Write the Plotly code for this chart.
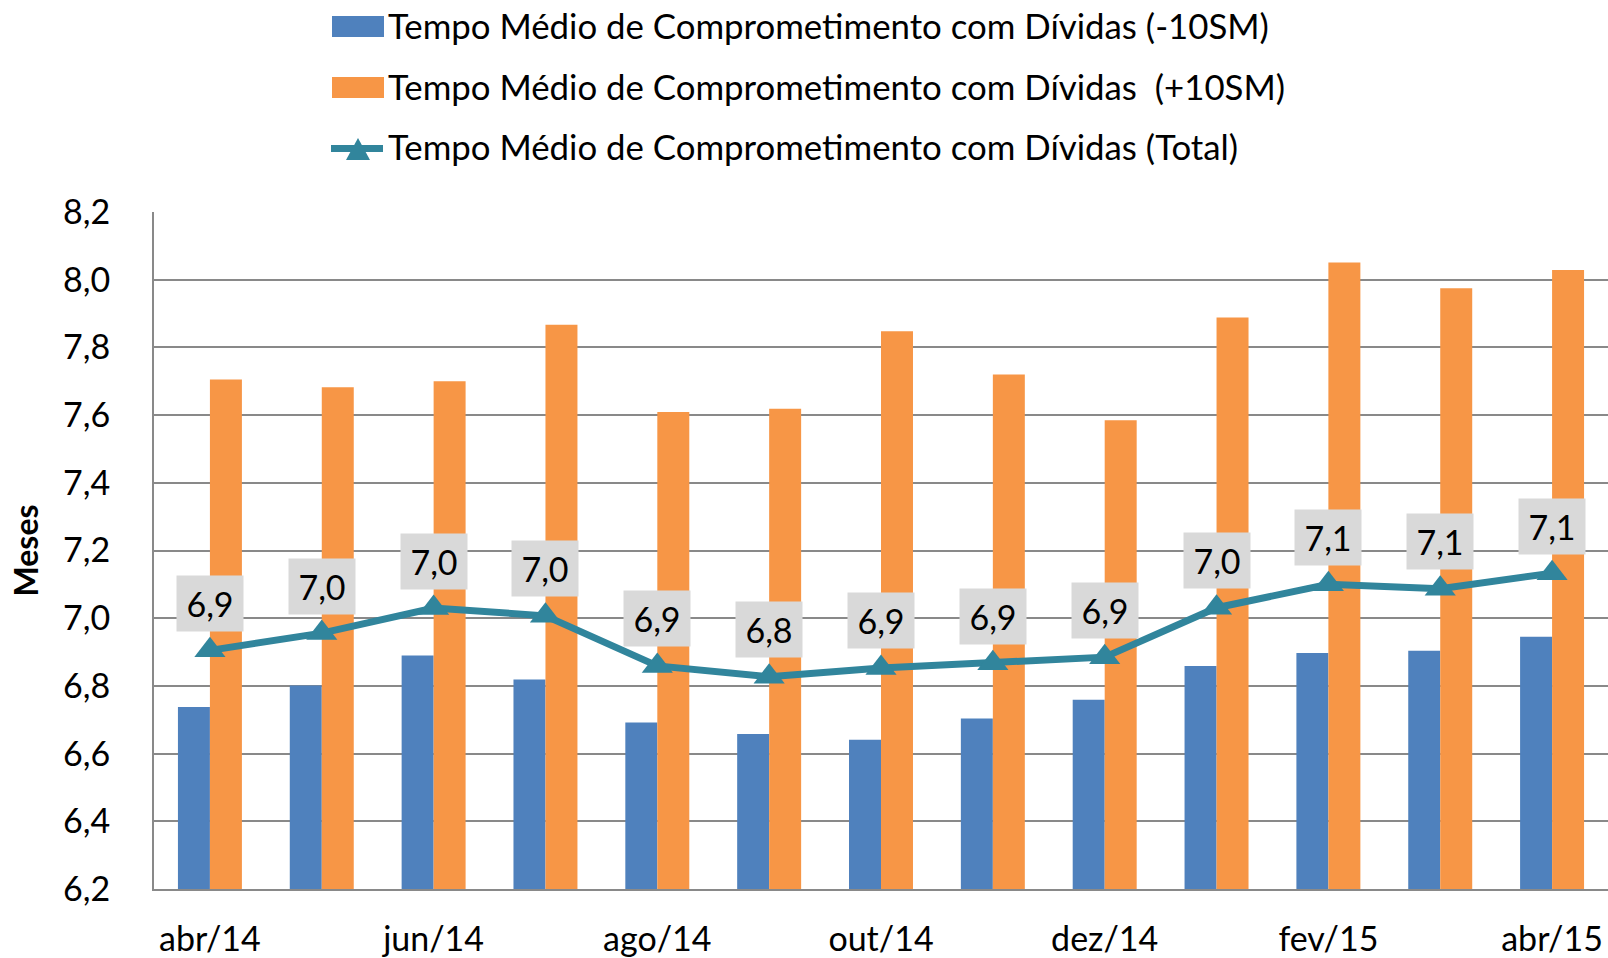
import plotly.graph_objects as go

# ---- data ----
categories = ["abr/14", "mai/14", "jun/14", "jul/14", "ago/14", "set/14", "out/14",
              "nov/14", "dez/14", "jan/15", "fev/15", "mar/15", "abr/15"]
menos_10sm = [6.738, 6.801, 6.890, 6.819, 6.692, 6.658, 6.641, 6.704, 6.759, 6.859, 6.897, 6.904, 6.945]
mais_10sm = [7.705, 7.682, 7.700, 7.867, 7.609, 7.619, 7.848, 7.720, 7.585, 7.888, 8.051, 7.975, 8.029]
total = [6.905, 6.956, 7.030, 7.007, 6.859, 6.827, 6.853, 6.867, 6.885, 7.031, 7.100, 7.087, 7.133]
x_tick_labels = ["abr/14", "jun/14", "ago/14", "out/14", "dez/14", "fev/15", "abr/15"]
y_ticks = [6.2, 6.4, 6.6, 6.8, 7.0, 7.2, 7.4, 7.6, 7.8, 8.0, 8.2]
series_names = ["Tempo Médio de Comprometimento com Dívidas (-10SM)",
                "Tempo Médio de Comprometimento com Dívidas  (+10SM)",
                "Tempo Médio de Comprometimento com Dívidas (Total)"]
y_title = "Meses"

BLUE = "#4f81bd"
ORANGE = "#f79646"
TEAL = "#31859c"
GRID = "#898989"
FONT = "Lato"

W, H = 1608, 958
ML, MR, MT, MB = 154, 0, 212, 69
PW, PH = W - ML - MR, H - MT - MB


def px_x(p):
    return (p - ML) / PW


def px_y(p):
    return (H - MB - p) / PH


fig = go.Figure()
fig.add_trace(go.Bar(x=categories, y=menos_10sm, name=series_names[0],
                     marker=dict(color=BLUE, line=dict(width=0)), showlegend=False))
fig.add_trace(go.Bar(x=categories, y=mais_10sm, name=series_names[1],
                     marker=dict(color=ORANGE, line=dict(width=0)), showlegend=False))
fig.add_trace(go.Scatter(x=categories, y=total, name=series_names[2], mode="lines+markers",
                         line=dict(color=TEAL, width=7),
                         marker=dict(symbol="triangle-up", size=27, color=TEAL),
                         showlegend=False))

annotations = []
for c, v in zip(categories, total):
    annotations.append(dict(
        x=c, y=v, xref="x", yref="y", text=f"{v:.1f}".replace(".", ","),
        showarrow=False, yshift=47, bgcolor="#d9d9d9", width=64, height=53,
        font=dict(family=FONT, size=34, color="#000000"), align="center", valign="middle"))

# manual legend (large symbols as in the reference)
shapes = []
legend_rows_y = [26.5, 87.5, 148.5]
colors = [BLUE, ORANGE]
for i in range(2):
    yc = legend_rows_y[i]
    shapes.append(dict(type="rect", xref="paper", yref="paper",
                       x0=px_x(332), x1=px_x(384), y0=px_y(yc + 10.5), y1=px_y(yc - 10.5),
                       fillcolor=colors[i], line=dict(width=0)))
yc = legend_rows_y[2]
shapes.append(dict(type="line", xref="paper", yref="paper",
                   x0=px_x(331), x1=px_x(383), y0=px_y(yc), y1=px_y(yc),
                   line=dict(color=TEAL, width=7)))
shapes.append(dict(type="path", xref="paper", yref="paper",
                   path=f"M {px_x(346)} {px_y(160)} L {px_x(370)} {px_y(160)} L {px_x(358)} {px_y(138)} Z",
                   fillcolor=TEAL, line=dict(width=0)))
for i, name in enumerate(series_names):
    annotations.append(dict(
        x=px_x(386), y=px_y(legend_rows_y[i] - 1.5), xref="paper", yref="paper",
        xanchor="left", yanchor="middle", text=name.replace("  ", "&nbsp; "), showarrow=False,
        font=dict(family=FONT, size=34.8, color="#000000")))

# y-axis title
annotations.append(dict(
    x=px_x(25), y=0.5, xref="paper", yref="paper", xanchor="center", yanchor="middle",
    text=f"<b>{y_title}</b>", textangle=-90, showarrow=False,
    font=dict(family=FONT, size=32, color="#000000")))

fig.update_layout(
    width=W, height=H,
    margin=dict(l=ML, r=MR, t=MT, b=MB, pad=0),
    paper_bgcolor="white", plot_bgcolor="white",
    separators=",.",
    barmode="group", bargap=0.428, bargroupgap=0,
    font=dict(family=FONT, color="#000000"),
    xaxis=dict(type="category", range=[-0.5, 12.5], tickmode="array",
               tickvals=x_tick_labels, ticktext=x_tick_labels,
               tickfont=dict(family=FONT, size=34, color="#000000"),
               showgrid=False, showline=True, linecolor=GRID, linewidth=2,
               ticks="", ticklabelstandoff=19, zeroline=False),
    yaxis=dict(range=[6.2, 8.2], tickmode="array", tickvals=y_ticks, tickformat=".1f",
               tickfont=dict(family=FONT, size=34, color="#000000"),
               showgrid=True, gridcolor=GRID, gridwidth=2,
               showline=True, linecolor=GRID, linewidth=2, zeroline=False,
               ticks="", ticklabelstandoff=35),
    annotations=annotations,
    shapes=shapes,
)

fig.write_html("out.html")
